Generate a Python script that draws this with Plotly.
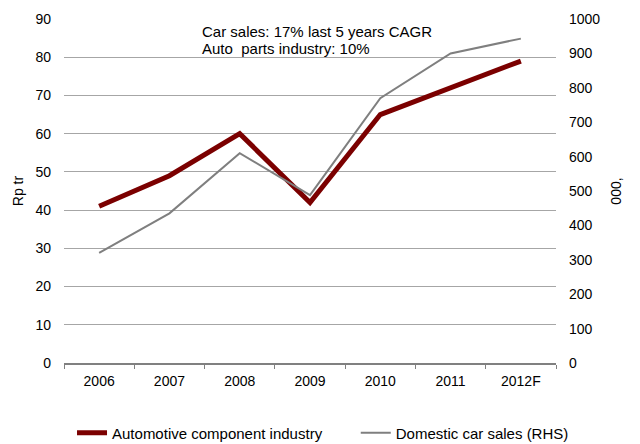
import plotly.graph_objects as go

years = ["2006", "2007", "2008", "2009", "2010", "2011", "2012F"]
component_industry = [41, 49, 60, 42, 65, 72, 79]          # Rp tr
domestic_car_sales = [320, 435, 610, 488, 770, 900, 943]   # '000 units

FONT = "Liberation Sans, Arial, sans-serif"

fig = go.Figure()
fig.add_trace(go.Scatter(
    x=years, y=component_industry, name="Automotive component industry",
    mode="lines", line=dict(color="#7b0000", width=5), yaxis="y", legend="legend",
))
fig.add_trace(go.Scatter(
    x=years, y=domestic_car_sales, name="Domestic car sales (RHS)",
    mode="lines", line=dict(color="#7f7f7f", width=2), yaxis="y2", legend="legend2",
))

legend_style = dict(orientation="h", xanchor="left", yanchor="middle",
                    yref="container", y=(444 - 433) / 444,
                    font=dict(size=15), bgcolor="rgba(0,0,0,0)")

fig.update_layout(
    width=640, height=444,
    margin=dict(l=64, r=84, t=19, b=81),
    paper_bgcolor="white", plot_bgcolor="white",
    font=dict(family=FONT, size=14, color="#000000"),
    showlegend=True,
    legend=dict(x=0.0163, **legend_style),
    legend2=dict(x=0.593, **legend_style),
    xaxis=dict(
        type="category", range=[-0.5, 6.5], tickson="boundaries",
        ticks="outside", ticklen=4, ticklabelstandoff=4,
        tickcolor="#808080", showline=True, linecolor="#808080", linewidth=2,
        showgrid=False, tickfont=dict(size=14),
    ),
    yaxis=dict(
        range=[0, 90], dtick=10, showgrid=True, gridcolor="#a6a6a6", gridwidth=1,
        zeroline=False, showline=False, ticks="", tickfont=dict(size=14),
        ticklabelstandoff=12,
        title=dict(text="Rp tr", font=dict(size=14), standoff=8),
    ),
    yaxis2=dict(
        range=[0, 1000], dtick=100, overlaying="y", side="right",
        showgrid=False, zeroline=False, showline=False, ticks="",
        tickfont=dict(size=14), ticklabelstandoff=12,
        title=dict(text="000,", font=dict(size=14), standoff=11),
    ),
    annotations=[
        dict(text="Car sales: 17% last 5 years CAGR",
             xref="paper", yref="paper", x=0.276, y=(363 - 31.5) / 344,
             xanchor="left", yanchor="middle", showarrow=False, font=dict(size=15)),
        dict(text="Auto  parts industry: 10%",
             xref="paper", yref="paper", x=0.276, y=(363 - 48.5) / 344,
             xanchor="left", yanchor="middle", showarrow=False, font=dict(size=15)),
    ],
)

fig.write_html("out.html")
